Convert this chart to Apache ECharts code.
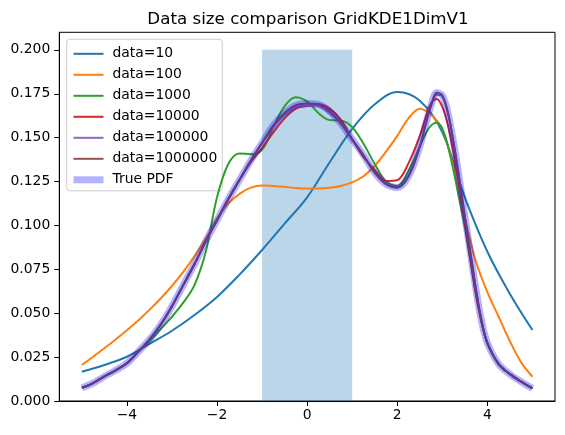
<!DOCTYPE html>
<html>
<head>
<meta charset="utf-8">
<script src="https://cdn.jsdelivr.net/npm/echarts@6/dist/echarts.min.js"></script>
<style>
html,body{margin:0;padding:0;background:#fff;}
#chart{width:565px;height:435px;}
</style>
</head>
<body>
<div id="chart"></div>
<script>
// ---- data ----
const seriesNames = ['data=10','data=100','data=1000','data=10000','data=100000','data=1000000','True PDF'];
const xTicks = [-4,-2,0,2,4];
const yTicks = [0,0.025,0.05,0.075,0.1,0.125,0.15,0.175,0.2];
const spanX = [-1, 1];
const spanTop = 0.2;

const xsCoarse = [-5,-4.5,-4,-3.5,-3,-2.5,-2,-1.5,-1,-0.5,0,0.5,1,1.5,2,2.5,3,3.5,4,4.5,5];
const xsQuarter = [-5,-4.75,-4.5,-4.25,-4,-3.75,-3.5,-3.25,-3,-2.75,-2.5,-2.25,-2,-1.75,-1.5,-1.25,-1,-0.75,-0.5,-0.25,0,0.25,0.5,0.75,1,1.25,1.5,1.75,2,2.25,2.5,2.75,3,3.25,3.5,3.75,4,4.25,4.5,4.75,5];
const xsFine = [-5,-4.75,-4.5,-4.25,-4,-3.75,-3.5,-3.25,-3,-2.75,-2.5,-2.25,-2,-1.75,-1.5,-1.25,-1,-0.75,-0.5,-0.25,0,0.25,0.5,0.75,1,1.25,1.5,1.75,2,2.25,2.5,2.625,2.75,2.875,3,3.125,3.25,3.375,3.5,3.625,3.75,3.875,4,4.25,4.5,4.75,5];

const data10 = [0.0167,0.0205,0.0252,0.0325,0.040,0.049,0.0593,0.072,0.086,0.101,0.116,0.136,0.155,0.169,0.176,0.171,0.153,0.116,0.085,0.061,0.0404];
const data100 = [0.0205,0.0252,0.0300,0.0350,0.0403,0.0459,0.0519,0.0584,0.0655,0.0735,0.0825,0.0925,0.104,0.1125,0.118,0.1215,0.1228,0.1225,0.122,0.1213,0.121,0.121,0.1215,0.1225,0.1245,0.128,0.134,0.142,0.151,0.161,0.1665,0.163,0.155,0.133,0.104,0.079,0.062,0.048,0.034,0.022,0.0138];
const data1000 = [0.0075,0.0102,0.014,0.0175,0.0215,0.028,0.034,0.041,0.048,0.056,0.066,0.085,0.116,0.135,0.141,0.1405,0.143,0.156,0.168,0.173,0.1705,0.164,0.160,0.1598,0.156,0.1465,0.135,0.125,0.1225,0.131,0.145,0.152,0.157,0.1585,0.155,0.145,0.131,0.115,0.099,0.080,0.061,0.045,0.033,0.021,0.0153,0.011,0.0072];
const data10000 = [0.0075,0.0102,0.014,0.0175,0.0215,0.028,0.035,0.0435,0.054,0.066,0.078,0.091,0.103,0.115,0.126,0.136,0.144,0.153,0.161,0.1665,0.168,0.169,0.1665,0.160,0.149,0.139,0.1315,0.1253,0.1258,0.1355,0.151,0.161,0.1695,0.172,0.1675,0.157,0.141,0.122,0.101,0.080,0.060,0.044,0.033,0.021,0.0153,0.011,0.0072];
const data100000 = [0.0075,0.0102,0.014,0.0175,0.0215,0.028,0.035,0.0435,0.054,0.066,0.078,0.091,0.103,0.115,0.126,0.137,0.147,0.156,0.163,0.1675,0.1685,0.168,0.164,0.158,0.149,0.140,0.130,0.1235,0.1218,0.128,0.145,0.157,0.168,0.1745,0.1735,0.164,0.147,0.127,0.105,0.084,0.063,0.045,0.033,0.021,0.0153,0.011,0.0072];
const data1000000 = [0.0075,0.0102,0.014,0.0175,0.0215,0.028,0.035,0.0435,0.054,0.066,0.078,0.091,0.103,0.115,0.126,0.137,0.147,0.157,0.164,0.1685,0.1695,0.169,0.165,0.158,0.149,0.140,0.130,0.1235,0.1215,0.128,0.145,0.157,0.1685,0.1755,0.174,0.164,0.147,0.127,0.105,0.084,0.063,0.045,0.033,0.021,0.0153,0.011,0.0072];
const truePdf = [0.0075,0.0102,0.014,0.0175,0.0215,0.028,0.035,0.0435,0.054,0.066,0.078,0.091,0.103,0.115,0.126,0.137,0.147,0.157,0.164,0.1685,0.1695,0.169,0.165,0.158,0.149,0.140,0.130,0.1235,0.1215,0.128,0.145,0.157,0.1685,0.1755,0.174,0.164,0.147,0.127,0.105,0.084,0.063,0.045,0.033,0.021,0.0153,0.011,0.0072];

const colors = ['#1f77b4','#ff7f0e','#2ca02c','#d62728','#9467bd','#8c564b','rgba(0,0,255,0.3)'];
const lineWidths = [2,2,2,2,2,2,7];
// ---- chart ----
const pair = (xs, ys) => xs.map((x, i) => [x, ys[i]]);
const FONT = 'DejaVu Sans';
const chart = echarts.init(document.getElementById('chart'), null, {renderer: 'canvas'});
const lineSeries = (name, xs, ys, idx) => ({
  name, type: 'line', data: pair(xs, ys), symbol: 'none', showSymbol: false,
  smooth: 0.35, z: 3 + idx,
  lineStyle: {color: colors[idx], width: lineWidths[idx]}, itemStyle: {color: colors[idx]},
  emphasis: {disabled: true}
});
const option = {
  animation: false,
  title: {
    text: 'Data size comparison GridKDE1DimV1',
    left: 303, textAlign: 'center', top: 6,
    textStyle: {fontFamily: FONT, fontSize: 16.7, fontWeight: 'normal', color: '#000'}
  },
  grid: {left: 59.3, top: 32.3, width: 495.7, height: 368.7, show: true, borderColor: '#000', borderWidth: 1, containLabel: false, outerBoundsMode: 'none'},
  legend: {
    data: seriesNames.map((n, i) => ({name: n, lineStyle: {width: lineWidths[i], color: colors[i]}})),
    orient: 'vertical', left: 66.7, top: 39.3,
    backgroundColor: 'rgba(255,255,255,0.8)', borderColor: '#cccccc', borderWidth: 1, borderRadius: 3,
    padding: [7.5, 5, 4, 3.3], itemWidth: 30, itemHeight: 14, itemGap: 7.0,
    itemStyle: {opacity: 0},
    textStyle: {fontFamily: FONT, fontSize: 13.9, color: '#000', padding: [0, 0, 0, 4]},
    selectedMode: false
  },
  xAxis: {
    type: 'value', min: -5.5, max: 5.5,
    axisLine: {show: true, onZero: false, lineStyle: {color: '#000', width: 1}},
    axisTick: {show: true, length: 5, customValues: xTicks, lineStyle: {color: '#000', width: 1}},
    axisLabel: {customValues: xTicks, color: '#000', fontFamily: FONT, fontSize: 13.9, margin: 7,
      formatter: v => String(v).replace('-', '\u2212')},
    splitLine: {show: false}
  },
  yAxis: {
    type: 'value', min: 0, max: 0.21,
    axisLine: {show: true, onZero: false, lineStyle: {color: '#000', width: 1}},
    axisTick: {show: true, length: 5, customValues: yTicks, lineStyle: {color: '#000', width: 1}},
    axisLabel: {customValues: yTicks, color: '#000', fontFamily: FONT, fontSize: 13.9, margin: 9,
      formatter: v => Number(v).toFixed(3)},
    splitLine: {show: false}
  },
  series: [
    {
      name: 'span', type: 'custom', z: 1, silent: true,
      data: [[spanX[0], spanX[1], spanTop]],
      renderItem: (params, api) => {
        const p0 = api.coord([api.value(0), api.value(2)]);
        const p1 = api.coord([api.value(1), 0]);
        return {type: 'rect', shape: {x: p0[0], y: p0[1], width: p1[0] - p0[0], height: p1[1] - p0[1]},
          style: {fill: 'rgba(31,119,180,0.3)'}};
      }
    },
    lineSeries(seriesNames[0], xsCoarse, data10, 0),
    lineSeries(seriesNames[1], xsQuarter, data100, 1),
    lineSeries(seriesNames[2], xsFine, data1000, 2),
    lineSeries(seriesNames[3], xsFine, data10000, 3),
    lineSeries(seriesNames[4], xsFine, data100000, 4),
    lineSeries(seriesNames[5], xsFine, data1000000, 5),
    lineSeries(seriesNames[6], xsFine, truePdf, 6)
  ]
};
chart.setOption(option);
</script>
</body>
</html>
